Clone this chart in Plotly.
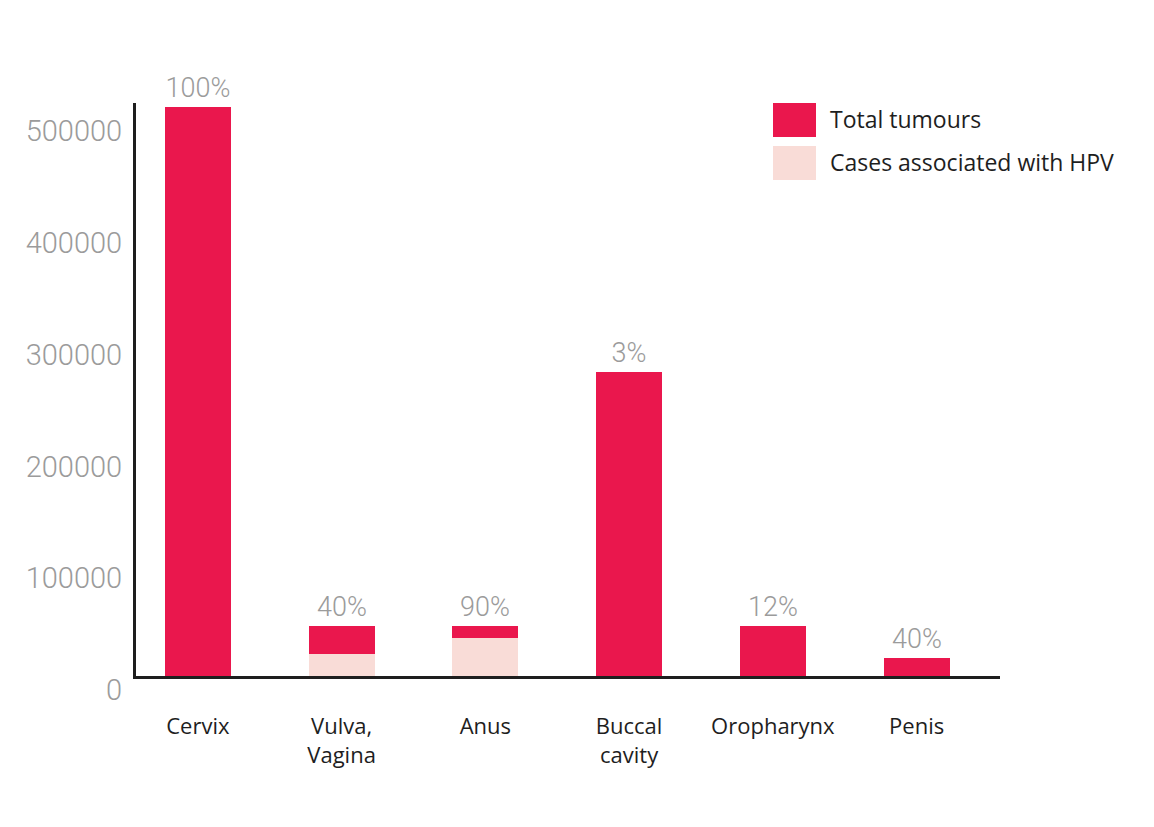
import plotly.graph_objects as go

categories = ["Cervix", "Vulva,<br>Vagina", "Anus", "Buccal<br>cavity", "Oropharynx", "Penis"]
total_tumours = [509000, 44700, 44700, 272000, 44700, 16100]
hpv_cases = [None, 19700, 34000, None, None, None]
pct_labels = ["100%", "40%", "90%", "3%", "12%", "40%"]
y_ticks = [0, 100000, 200000, 300000, 400000, 500000]

RED = "#EA174D"
PINK = "#F9DCD7"
GRAY = "#9B9B9B"
DARK = "#1E1E1E"

x = list(range(len(categories)))

fig = go.Figure()
fig.add_trace(go.Bar(
    x=x, y=total_tumours, name="Total tumours", marker=dict(color=RED, line=dict(width=0)),
    width=0.46, text=pct_labels, textposition="outside", constraintext="none",
    textfont=dict(family="Roboto", size=27, color=GRAY, weight=300), cliponaxis=False,
    showlegend=False,
))
fig.add_trace(go.Bar(
    x=x, y=hpv_cases, name="Cases associated with HPV", marker=dict(color=PINK, line=dict(width=0)),
    width=0.46, showlegend=False,
))

# custom legend
legend_items = [("Total tumours", RED), ("Cases associated with HPV", PINK)]
for i, (label, col) in enumerate(legend_items):
    y0 = 1 - (0 + i * 43) / 573
    fig.add_shape(type="rect", xref="paper", yref="paper",
                  x0=(773 - 136) / 864, x1=(816 - 136) / 864,
                  y0=y0 - 34 / 573, y1=y0, fillcolor=col, line=dict(width=0))
    fig.add_annotation(xref="paper", yref="paper", x=(828 - 136) / 864, y=y0 - 16 / 573,
                       text=label, showarrow=False, xanchor="left", yanchor="middle",
                       font=dict(family="Open Sans", size=23, color=DARK, weight=500))

fig.update_layout(
    width=1154, height=827,
    margin=dict(l=128, r=162, t=95, b=159),
    paper_bgcolor="white", plot_bgcolor="white",
    barmode="overlay", bargap=0,
    showlegend=False,
)
fig.update_xaxes(
    range=[-0.43, 5.58], tickmode="array", tickvals=x, ticktext=categories,
    showline=True, linewidth=3, linecolor=DARK, showgrid=False, zeroline=False,
    ticks="", tickfont=dict(family="Open Sans", size=22, color=DARK, weight=500),
    ticklabelstandoff=29, fixedrange=True,
)
fig.update_yaxes(
    range=[0, 512500], tickmode="array", tickvals=y_ticks, ticktext=[str(v) for v in y_ticks],
    showline=True, linewidth=3, linecolor=DARK, showgrid=False, zeroline=False,
    ticks="", tickfont=dict(family="Roboto", size=29, color=GRAY, weight=300),
    ticklabelstandoff=5, ticklabelshift=14,
)

fig.write_html("out.html")
